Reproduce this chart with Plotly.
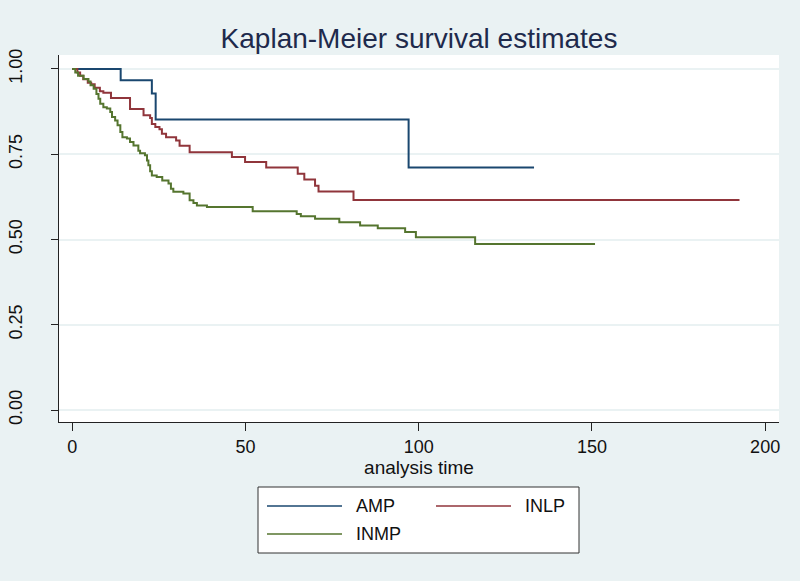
import plotly.graph_objects as go

# ---- data ----
groups = ["AMP", "INLP", "INMP"]

amp_t = [0, 14, 23, 24.1, 97.1, 133.3]
amp_s = [1.0, 0.967, 0.928, 0.852, 0.711, 0.711]

inlp_t = [0, 1.5, 2.3, 3.2, 4.5, 5.5, 6.5, 8, 9, 11.2, 16.7, 20.6, 22.5, 23, 24,
          25.2, 25.9, 27.1, 30, 31, 33.9, 46.1, 49.9, 56, 65.1, 67, 70.1, 71.1,
          81.2, 192.6]
inlp_s = [1.0, 0.99, 0.98, 0.97, 0.96, 0.955, 0.945, 0.935, 0.93, 0.915, 0.883,
          0.864, 0.856, 0.839, 0.83, 0.823, 0.81, 0.80, 0.79, 0.775, 0.756, 0.742,
          0.727, 0.711, 0.693, 0.676, 0.658, 0.641, 0.616, 0.616]

inmp_t = [0, 0.9, 1.7, 3.3, 4.7, 5.3, 6.2, 7, 7.6, 8.1, 9, 10, 11, 11.5, 12.4,
          13.1, 13.9, 14.5, 15.8, 16.7, 17.7, 19.1, 19.6, 21, 21.6, 22, 22.5, 23,
          24.4, 26, 27.8, 28.5, 29.2, 32.1, 33.9, 35, 36, 38.9, 52.1, 64.8, 66,
          70.1, 77.1, 83.1, 88.2, 96.1, 99.2, 116.3, 150.9]
inmp_s = [1.0, 0.99, 0.98, 0.971, 0.963, 0.952, 0.942, 0.927, 0.913, 0.898, 0.888,
          0.884, 0.874, 0.859, 0.849, 0.835, 0.815, 0.80, 0.796, 0.786, 0.776, 0.76,
          0.753, 0.747, 0.732, 0.718, 0.70, 0.688, 0.683, 0.673, 0.664, 0.649, 0.64,
          0.635, 0.615, 0.607, 0.60, 0.595, 0.583, 0.575, 0.568, 0.561, 0.551, 0.541,
          0.533, 0.522, 0.507, 0.487, 0.487]

x_ticks = [0, 50, 100, 150, 200]
y_ticks = [0, 0.25, 0.5, 0.75, 1.0]
y_tick_text = ["0.00", "0.25", "0.50", "0.75", "1.00"]

colors = ["#1A476F", "#90353B", "#55752F"]
series = [(amp_t, amp_s), (inlp_t, inlp_s), (inmp_t, inmp_s)]

BG = "#EAF2F3"
FONT = "Liberation Sans, Arial, sans-serif"

fig = go.Figure()
for name, (t, s), c in zip(groups, series, colors):
    fig.add_trace(go.Scatter(x=t, y=s, mode="lines", name=name,
                             line=dict(color=c, width=2, shape="hv"),
                             showlegend=False))

W, H = 800, 581
L, R, T, B = 59, 21, 55, 159

fig.update_layout(
    width=W, height=H,
    margin=dict(l=L, r=R, t=T, b=B, pad=0, autoexpand=False),
    paper_bgcolor=BG, plot_bgcolor="white",
    font=dict(family=FONT, color="#111111"),
    title=dict(text="Kaplan-Meier survival estimates", x=419 / W,
               xanchor="center", xref="container", y=1 - 38 / H, yanchor="middle",
               yref="container",
               font=dict(size=28, color="#1E2A4C", family=FONT)),
    xaxis=dict(range=[-3.8, 204], tickvals=x_ticks, showgrid=False,
               zeroline=False, showline=True, linecolor="#222222", linewidth=1,
               ticks="outside", ticklen=8, tickcolor="#222222", automargin=False,
               tickfont=dict(size=18, family=FONT, color="#111111"),
               title=dict(text="analysis time", standoff=4,
                          font=dict(size=19, family=FONT, color="#111111"))),
    yaxis=dict(range=[-0.035, 1.041], tickvals=y_ticks, ticktext=y_tick_text,
               tickangle=-90, showgrid=True, gridcolor=BG, gridwidth=1.5,
               zeroline=False, showline=True, linecolor="#222222", linewidth=1,
               ticks="outside", ticklen=7, tickcolor="#222222", automargin=False,
               ticklabelstandoff=22,
               tickfont=dict(size=18, family=FONT, color="#111111")),
)

# ---- manual legend (Stata style box) ----
PW, PH = W - L - R, H - T - B

def lx_paper(p):
    return (p - L) / PW

def ly_paper(p):
    return -(p - (H - B)) / PH

shapes = [dict(type="rect", xref="paper", yref="paper",
               x0=lx_paper(258), x1=lx_paper(579),
               y0=ly_paper(553), y1=ly_paper(487),
               line=dict(color="#333333", width=1), fillcolor="white", layer="below")]
legend_pos = [(267, 506), (436, 506), (267, 534)]
annotations = []
for name, c, (lx, ly) in zip(groups, colors, legend_pos):
    yy = ly_paper(ly)
    shapes.append(dict(type="line", xref="paper", yref="paper",
                       x0=lx_paper(lx), x1=lx_paper(lx + 75),
                       y0=yy, y1=yy, line=dict(color=c, width=1.5)))
    annotations.append(dict(text=name, xref="paper", yref="paper",
                            x=lx_paper(lx + 87), y=yy, xanchor="left",
                            yanchor="middle", showarrow=False,
                            font=dict(size=18, family=FONT, color="#111111")))

fig.update_layout(shapes=shapes, annotations=annotations)
fig.write_html("out.html", config={"displayModeBar": False},
               post_script="document.body.style.margin='0';document.body.style.padding='0';")
